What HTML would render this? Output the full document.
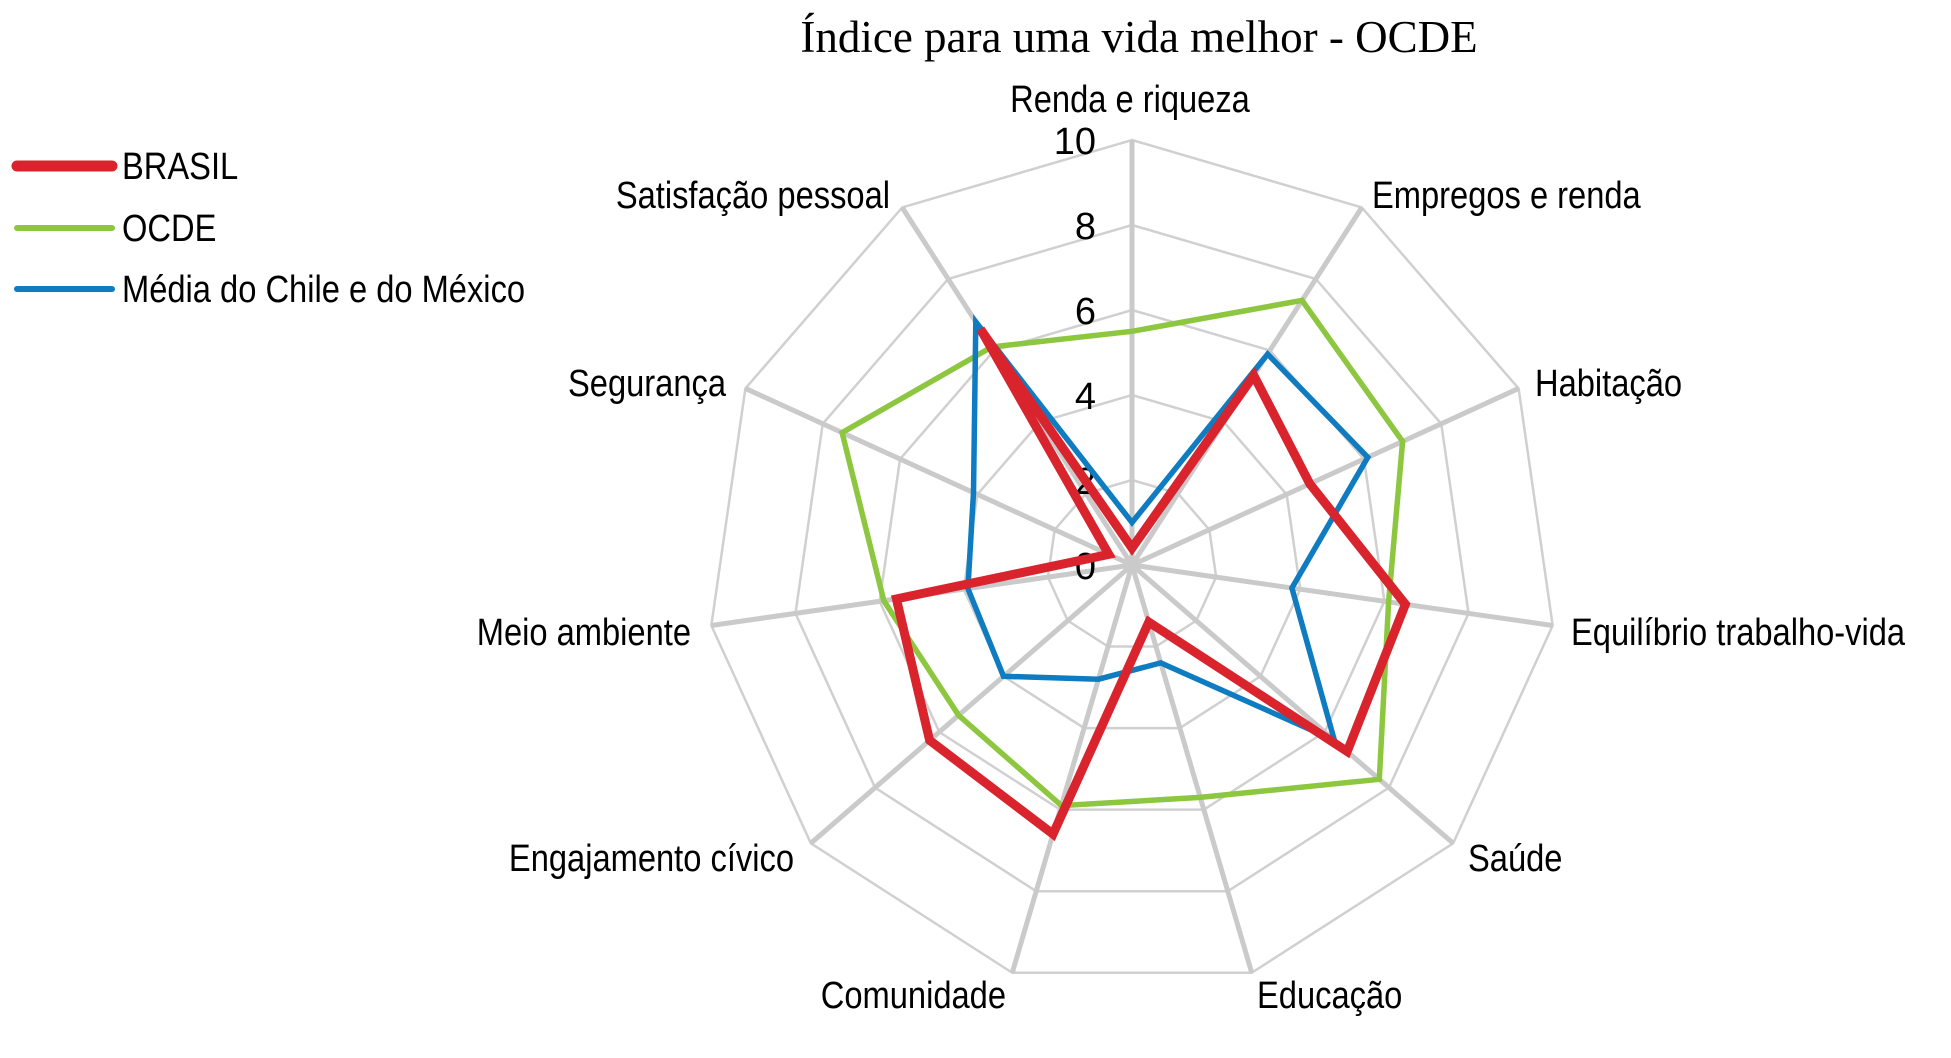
<!DOCTYPE html>
<html><head><meta charset="utf-8"><style>
html,body{margin:0;padding:0;background:#fff;}
svg{display:block;}
text{font-family:"Liberation Sans",Arial,sans-serif;fill:#000;}
</style></head><body>
<svg id="chart" width="1951" height="1058" viewBox="0 0 1951 1058" xmlns="http://www.w3.org/2000/svg">
<text x="1139" y="52" text-anchor="middle" style="font-family:'Liberation Serif',serif;font-size:45px;">Índice para uma vida melhor - OCDE</text>
<g id="grid"></g>
<g id="ticks"></g>
<g id="series"></g>
<g id="labels"></g>
<g id="legend"></g>
</svg>
<script>
const categories = ["Renda e riqueza","Empregos e renda","Habitação","Equilíbrio trabalho-vida","Saúde","Educação","Comunidade","Engajamento cívico","Meio ambiente","Segurança","Satisfação pessoal"];
const brasil = [0.4,5.3,4.6,6.5,6.7,1.4,6.6,6.3,5.6,0.6,6.6];
const ocde = [5.5,7.4,7.0,6.1,7.7,5.7,5.9,5.4,5.9,7.5,6.1];
const chileMexico = [1.0,5.9,6.1,3.8,6.3,2.4,2.8,4.0,3.9,4.1,6.8];
const tickValues = [0,2,4,6,8,10];
const seriesNames = ["BRASIL","OCDE","Média do Chile e do México"];

const NS="http://www.w3.org/2000/svg";
const cx=1132, cy=565, R=425, maxV=10;
const n=categories.length;
function ang(i){return i*2*Math.PI/n;}
function px(i,v){return cx+Math.sin(ang(i))*v/maxV*R;}
function py(i,v){return cy-Math.cos(ang(i))*v/maxV*R;}
function mk(tag,attrs,parent){const e=document.createElementNS(NS,tag);for(const k in attrs)e.setAttribute(k,attrs[k]);parent.appendChild(e);return e;}

const grid=document.getElementById('grid');
tickValues.slice(1).forEach(t=>{
  const pts=categories.map((c,i)=>px(i,t)+','+py(i,t)).join(' ');
  const p=mk('polygon',{points:pts,fill:'none',stroke:'#d0d0d0','stroke-width':2.5},grid);
  
  
});
categories.forEach((c,i)=>{
  const l=mk('line',{x1:cx,y1:cy,x2:px(i,maxV),y2:py(i,maxV),stroke:'#cacaca','stroke-width':5},grid);
  
  
});

const ticks=document.getElementById('ticks');
tickValues.forEach(t=>{
  const tx=mk('text',{x:1096,y:py(0,t)+14,'text-anchor':'end','font-size':38,transform:''},ticks);
  tx.textContent=String(t);
  
  
});

const colors=["#d9232d","#8dc63f","#0f7bc0"];
const widths=[9,5.5,5.5];
const data=[brasil,ocde,chileMexico];
const series=document.getElementById('series');
[1,2,0].forEach(s=>{
  const pts=data[s].map((v,i)=>px(i,v).toFixed(1)+','+py(i,v).toFixed(1)).join(' ');
  const p=mk('polygon',{points:pts,fill:'none',stroke:colors[s],'stroke-width':widths[s],'stroke-linejoin':'miter'},series);
  
  
});

const labelPos=[[1130,112,'middle'],[1372,208,'start'],[1535,396,'start'],[1571,645,'start'],[1468,871,'start'],[1257,1008,'start'],[1006,1008,'end'],[794,871,'end'],[691,645,'end'],[726,396,'end'],[890,208,'end']];
const labels=document.getElementById('labels');
categories.forEach((c,i)=>{
  const [x,y,a]=labelPos[i];
  const t=mk('text',{'text-anchor':a,'font-size':38,transform:`translate(${x},${y}) scale(0.86,1)`},labels);
  t.textContent=c;
  
  
});

const legend=document.getElementById('legend');
const ly=[166,228,289];
seriesNames.forEach((nm,s)=>{
  const g=mk('g',{},legend);
  
  
  mk('line',{x1:17,y1:ly[s],x2:112,y2:ly[s],stroke:colors[s],'stroke-width':s===0?11:6,'stroke-linecap':'round'},g);
  const t=mk('text',{'font-size':38,transform:`translate(122,${ly[s]+13}) scale(0.86,1)`},g);
  t.textContent=nm;
});
</script>
</body></html>
